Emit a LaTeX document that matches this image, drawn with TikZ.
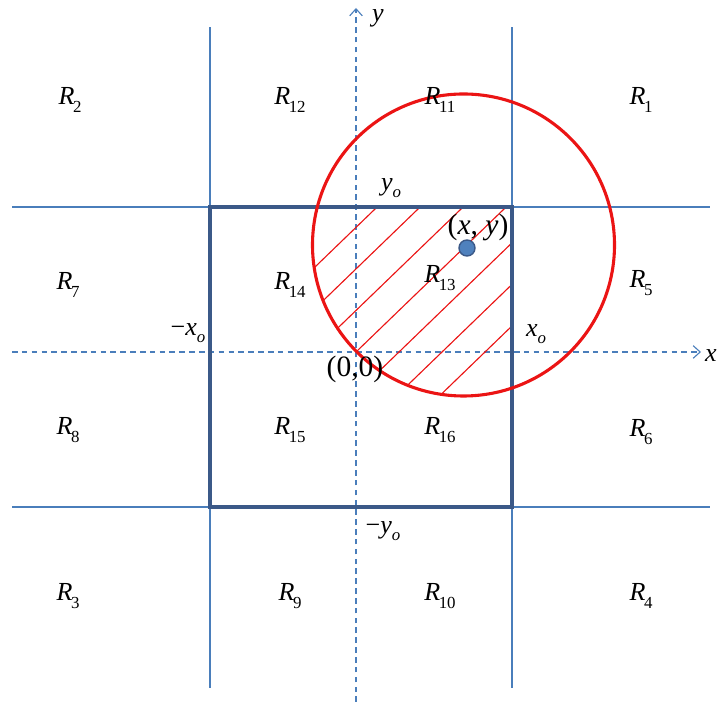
\documentclass[tikz,border=0pt]{standalone}
\usepackage{fontspec}
\setmainfont{Liberation Serif}
\usetikzlibrary{arrows.meta}

\definecolor{gridblue}{RGB}{74,126,187}
\definecolor{boxblue}{RGB}{59,89,136}
\definecolor{dotblue}{RGB}{79,129,189}
\definecolor{ringred}{RGB}{235,20,20}

% region label R with subscript
\newcommand{\reg}[1]{\textit{R}\kern-1pt\raisebox{-0.6ex}{\fontsize{12}{13}\selectfont #1}}
\newcommand{\sub}[2]{\textit{#1}\raisebox{-0.55ex}{\fontsize{12}{13}\selectfont\textit{#2}}}

\begin{document}
\begin{tikzpicture}[
  x=0.025cm, y=0.025cm,
  gridline/.style={gridblue, line width=0.8pt},
  axisline/.style={gridblue, line width=0.8pt, dash pattern=on 4pt off 3pt, -{Straight Barb[length=5pt, width=9pt]}},
  square/.style={boxblue, line width=2.2pt},
  ring/.style={ringred, line width=2.2pt},
  hatch/.style={ringred, line width=0.8pt},
  lbl/.style={font=\fontsize{18.5}{22}\selectfont, inner sep=0pt}
]
  \useasboundingbox (0,0) rectangle (717,702);

  % grid lines
  \draw[gridline] (210,14) -- (210,675);
  \draw[gridline] (512,14) -- (512,675);
  \draw[gridline] (12,495) -- (710,495);
  \draw[gridline] (12,195) -- (710,195);

  % axes
  \coordinate (ybot) at (356,0);
  \coordinate (ytop) at (356,694);
  \coordinate (xleft) at (12,350);
  \coordinate (xright) at (701,350);
  \draw[axisline] (ybot) -- (ytop);
  \draw[axisline] (xleft) -- (xright);

  % hatched part of the circle inside the square
  \begin{scope}
    \clip (210,195) rectangle (512,495);
    \clip (463.5,457) circle[radius=151];
    \foreach \k in {-3,...,3}
      \draw[hatch] (356+\k*43-300,350-300*0.966) -- (356+\k*43+300,350+300*0.966);
  \end{scope}

  \draw[square] (210,195) rectangle (512,495);
  \draw[ring] (463.5,457) circle[radius=151];
  \filldraw[fill=dotblue, draw=boxblue, line width=1pt] (467,454) circle[radius=8];

  % region labels
  \node[lbl] (r2)  at (70,602)  {\reg{2}};
  \node[lbl] (r12) at (290,602) {\reg{12}};
  \node[lbl] (r11) at (440,602) {\reg{11}};
  \node[lbl] (r1)  at (641,602) {\reg{1}};
  \node[lbl] (r7)  at (68,417)  {\reg{7}};
  \node[lbl] (r14) at (290,417) {\reg{14}};
  \node[lbl] (r13) at (440,424) {\reg{13}};
  \node[lbl] (r5)  at (641,419) {\reg{5}};
  \node[lbl] (r8)  at (68,272)  {\reg{8}};
  \node[lbl] (r15) at (290,272) {\reg{15}};
  \node[lbl] (r16) at (440,272) {\reg{16}};
  \node[lbl] (r6)  at (641,270) {\reg{6}};
  \node[lbl] (r3)  at (68,106)  {\reg{3}};
  \node[lbl] (r9)  at (290,106) {\reg{9}};
  \node[lbl] (r10) at (440,106) {\reg{10}};
  \node[lbl] (r4)  at (641,106) {\reg{4}};

  % axis and bound labels
  \node[lbl] (ylab)  at (378,684) {\textit{y}};
  \node[lbl] (xlab)  at (711,346) {\textit{x}};
  \node[lbl] (yo)    at (391,514) {\sub{y}{o}};
  \node[lbl] (myo)   at (383,171) {−\sub{y}{o}};
  \node[lbl] (xo)    at (536,368) {\sub{x}{o}};
  \node[lbl] (mxo)   at (188,369) {−\sub{x}{o}};
  \node[lbl, font=\fontsize{21}{24}\selectfont] (orig) at (355,333) {(0,0)};
  \node[lbl, font=\fontsize{21}{24}\selectfont] (pt)   at (478,475) {(\textit{x}, \textit{y})};
\end{tikzpicture}
\end{document}
